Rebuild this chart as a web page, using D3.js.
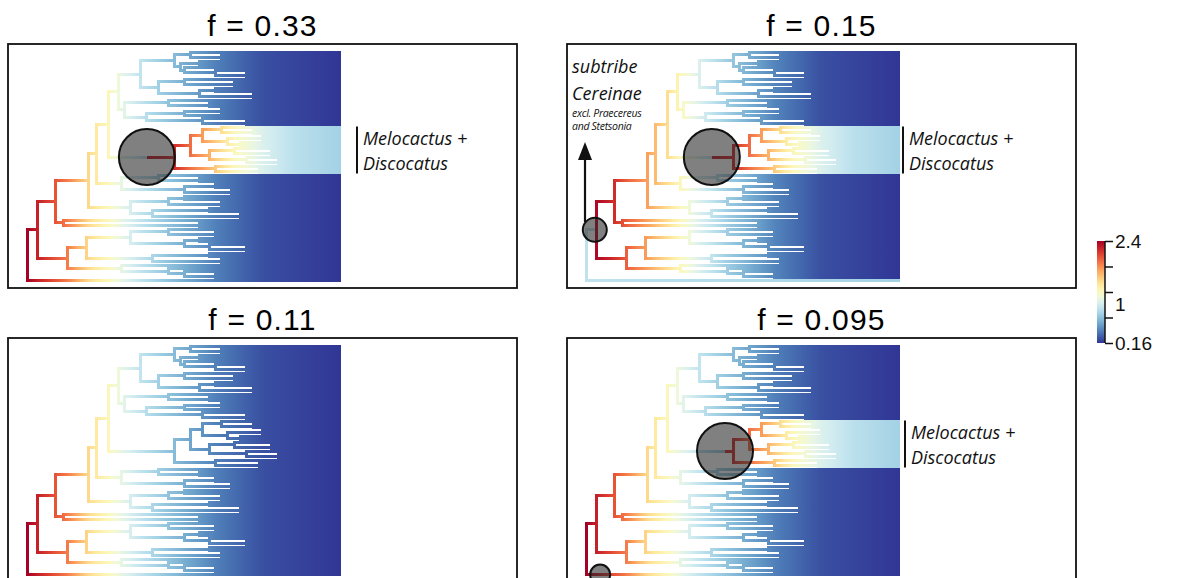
<!DOCTYPE html>
<html>
<head>
<meta charset="utf-8">
<script src="https://cdn.jsdelivr.net/npm/d3@7"></script>
<style>
  body { margin: 0; background: #fff; }
  svg { display: block; }
</style>
</head>
<body>
<svg id="chart" width="1185" height="578"></svg>
<script>
// tree topology, node depth after ")" (0 = root, 1 = present), "t" = tip, "#x" = clade name
const cladeA1a = "((t,(t,t)0.62)0.52,((t,t)0.55,(t,(t,(t,t)0.7)0.6)0.5)0.49)0.47";
const cladeA1b = "((t,(t,t)0.66)0.5,((t,t)0.6,(t,t)0.72)0.55)0.42";
const cladeA2 = "((t,(t,t)0.58)0.45,(((t,t)0.62,t)0.5,(t,(t,t)0.7)0.56)0.38)0.31";
const cladeM1a = "((t,(t,t)0.72)0.62,((t,t)0.75,(t,t)0.68)0.64)0.56";
const cladeM1b = "((t,(t,t)0.78)0.66,(t,(t,t)0.8)0.7)0.58";
const cladeM2 = "(t,(t,t)0.74)0.6";
const cladeB1 = "((t,(t,t)0.55)0.42,((t,t)0.6,(t,t)0.65)0.5)0.3";
const cladeB2 = "(((t,t)0.5,(t,t)0.62)0.45,((t,t)0.58,(t,t)0.68)0.4)0.33";
const cladeC = "(t,(t,t)0.55)0.115";
const cladeD1a = "((t,(t,t)0.6)0.45,((t,t)0.55,(t,(t,t)0.7)0.58)0.5)0.33";
const cladeD1b = "((t,t)0.58,(t,t)0.62)0.4";
const cladeD2 = "(t,(t,(t,(t,t)0.6)0.5)0.45)0.3";

const cladeA = `((${cladeA1a},${cladeA1b})0.36,${cladeA2})0.29`;
const cladeM = `((${cladeM1a},${cladeM1b})0.52,${cladeM2})0.47#M`;
const cladeD = `((${cladeD1a},${cladeD1b})0.19,${cladeD2})0.13`;
const treeString = `((((((${cladeA},${cladeM})0.26,${cladeB1})0.22,${cladeB2})0.195,${cladeC})0.09,${cladeD})0.035#N1,t#E)0`;

// net diversification rate along time for each rate regime
const bgTime = [0, 0.035, 0.09, 0.13, 0.2, 0.26, 0.3, 0.36, 0.45, 0.6, 0.75, 1.0];
const bgRate = [2.4, 2.25, 2.05, 1.9, 1.5, 1.3, 1.12, 0.93, 0.72, 0.43, 0.25, 0.16];
const melTime = [0.29, 0.47, 0.52, 0.58, 0.66, 0.75, 0.85, 1.0];
const melRate = [2.4, 2.2, 1.95, 1.7, 1.3, 1.05, 0.9, 0.8];
const cerTime = [0.02, 0.09, 0.13, 0.2, 0.26, 0.3, 0.36, 0.45, 0.6, 0.75, 1.0];
const cerRate = [2.4, 2.2, 2.0, 1.75, 1.5, 1.3, 1.05, 0.78, 0.45, 0.25, 0.16];
const lowTime = [0, 1.0];
const lowRate = [0.92, 0.8];

const panelTitles = ["f = 0.33", "f = 0.15", "f = 0.11", "f = 0.095"];
const panelRootRegime = ["bg", "low", "bg", "bg"];
const panelShifts = [
  [{node: "M", pos: 0.58, r: 28, regime: "mel"}],
  [{node: "N1", pos: 0.8, r: 12, regime: "cer"}, {node: "M", pos: 0.67, r: 28, regime: "mel"}],
  [],
  [{node: "E", pos: 0.045, r: 10, regime: "bg"}, {node: "M", pos: 0.87, r: 28, regime: "mel"}]
];
const panelCladeLabel = [true, true, false, true];

const legendDomain = [0.16, 2.4];
const legendTicks = [0.16, 0.72, 1.28, 1.84, 2.4];
const legendLabels = [2.4, 1, 0.16];

// layout
const panelPos = [[8, 44], [567, 44], [8, 338], [567, 338]];
const panelW = 509, panelH = 244;
const labelBarX = [349, 336, 0, 338];
const lineW = 3;

const svg = d3.select("#chart");
const defs = svg.append("defs");

const colorScale = d3.scaleSequential(t => d3.interpolateRdYlBu(1 - t)).domain(legendDomain);

const regimes = {
  bg: d3.scaleLinear().domain(bgTime).range(bgRate).clamp(true),
  mel: d3.scaleLinear().domain(melTime).range(melRate).clamp(true),
  cer: d3.scaleLinear().domain(cerTime).range(cerRate).clamp(true),
  low: d3.scaleLinear().domain(lowTime).range(lowRate).clamp(true)
};

function parseTree(s) {
  let i = 0;
  function node() {
    const n = {};
    if (s[i] === "(") {
      i++;
      n.children = [node()];
      while (s[i] === ",") { i++; n.children.push(node()); }
      i++;
      const m = /^[0-9.]+/.exec(s.slice(i));
      n.depth = +m[0];
      i += m[0].length;
    } else {
      i++;
      n.depth = 1;
    }
    if (s[i] === "#") {
      const m = /^#(\w+)/.exec(s.slice(i));
      n.name = m[1];
      i += m[0].length;
    }
    return n;
  }
  return node();
}

const root = d3.hierarchy(parseTree(treeString));
const leaves = root.leaves();
leaves.forEach((l, i) => l.yi = i);
root.eachAfter(n => {
  if (n.children) n.yi = (n.children[0].yi + n.children[n.children.length - 1].yi) / 2;
});

panelPos.forEach(([px, py], p) => {
  const g = svg.append("g");
  const x = d3.scaleLinear().domain([0, 1]).range([px + 19, px + 333]);
  const y = d3.scaleLinear().domain([0, leaves.length - 1])
    .range([py + 8.5, py + 8.5 + 3 * (leaves.length - 1)]);

  // one horizontal gradient per regime
  Object.keys(regimes).forEach(key => {
    const grad = defs.append("linearGradient")
      .attr("id", `g${p}_${key}`)
      .attr("gradientUnits", "userSpaceOnUse")
      .attr("x1", x(0)).attr("x2", x(1)).attr("y1", 0).attr("y2", 0);
    d3.range(0, 1.0001, 0.02).forEach(t => {
      grad.append("stop").attr("offset", t).attr("stop-color", colorScale(regimes[key](t)));
    });
  });

  // assign regimes
  const shifts = panelShifts[p];
  root.each(n => {
    const sh = shifts.find(s => s.node === n.data.name);
    n.shift = null;
    if (!n.parent) n.regime = panelRootRegime[p];
    else n.regime = n.parent.regime;
    if (sh && n.parent) {
      n.shift = sh;
      n.shiftD = n.parent.data.depth + sh.pos * (n.data.depth - n.parent.data.depth);
      n.regime = sh.regime;
    }
  });

  const tree = g.append("g").attr("shape-rendering", "crispEdges");

  // vertical connectors
  tree.selectAll(".vert").data(root.descendants().filter(n => n.children))
    .join("line")
    .attr("x1", n => x(n.data.depth)).attr("x2", n => x(n.data.depth))
    .attr("y1", n => y(n.children[0].yi) - 1.5).attr("y2", n => y(n.children[n.children.length - 1].yi) + 1.5)
    .attr("stroke", n => colorScale(regimes[n.regime](n.data.depth)))
    .attr("stroke-width", lineW);

  // horizontal branches, split at shift points
  const segs = [];
  root.descendants().forEach(n => {
    if (!n.parent) return;
    if (n.shift) {
      segs.push({x0: n.parent.data.depth, x1: n.shiftD, yi: n.yi, reg: n.parent.regime});
      segs.push({x0: n.shiftD, x1: n.data.depth, yi: n.yi, reg: n.regime});
    } else {
      segs.push({x0: n.parent.data.depth, x1: n.data.depth, yi: n.yi, reg: n.regime});
    }
  });
  tree.selectAll(".hor").data(segs)
    .join("line")
    .attr("x1", s => x(s.x0)).attr("x2", s => x(s.x1))
    .attr("y1", s => y(s.yi)).attr("y2", s => y(s.yi))
    .attr("stroke", s => `url(#g${p}_${s.reg})`)
    .attr("stroke-width", lineW);

  // shift circles
  g.selectAll(".shift").data(root.descendants().filter(n => n.shift))
    .join("circle")
    .attr("cx", n => x(n.shiftD)).attr("cy", n => y(n.yi))
    .attr("r", n => n.shift.r)
    .attr("fill", "#2b2b2b").attr("fill-opacity", 0.6)
    .attr("stroke", "#111").attr("stroke-width", 2);

  // panel frame and title
  g.append("rect")
    .attr("x", px).attr("y", py).attr("width", panelW).attr("height", panelH)
    .attr("fill", "none").attr("stroke", "#111").attr("stroke-width", 1.8);
  g.append("text")
    .attr("x", px + panelW / 2).attr("y", py - 8)
    .attr("text-anchor", "middle")
    .attr("font-family", "Liberation Sans, Arial, sans-serif")
    .attr("font-size", 30)
    .attr("letter-spacing", 1.2)
    .text(panelTitles[p]);

  if (panelCladeLabel[p]) {
    const mNode = root.descendants().find(n => n.data.name === "M");
    const mLeaves = mNode.leaves();
    const top = y(mLeaves[0].yi) - 1, bot = y(mLeaves[mLeaves.length - 1].yi) + 1;
    const bx = px + labelBarX[p];
    g.append("line").attr("x1", bx).attr("x2", bx).attr("y1", top).attr("y2", bot)
      .attr("stroke", "#111").attr("stroke-width", 2);
    const t = g.append("text")
      .attr("font-family", "Open Sans, sans-serif").attr("font-style", "italic")
      .attr("font-size", 18).attr("fill", "#111");
    t.append("tspan").attr("x", bx + 6).attr("y", top + 18).text("Melocactus +");
    t.append("tspan").attr("x", bx + 6).attr("y", top + 43).text("Discocatus");
  }

  if (p === 1) {
    const ax = px + 18;
    g.append("line").attr("x1", ax).attr("x2", ax).attr("y1", py + 178).attr("y2", py + 112)
      .attr("stroke", "#111").attr("stroke-width", 2.2);
    g.append("path")
      .attr("d", `M${ax},${py + 98}L${ax - 7},${py + 116}L${ax + 7},${py + 116}Z`)
      .attr("fill", "#111");
    const lab = g.append("text")
      .attr("font-family", "Open Sans, sans-serif").attr("font-style", "italic").attr("fill", "#111");
    lab.append("tspan").attr("x", px + 5).attr("y", py + 29).attr("font-size", 18).text("subtribe");
    lab.append("tspan").attr("x", px + 5).attr("y", py + 56).attr("font-size", 18).text("Cereinae");
    const small = g.append("text")
      .attr("font-family", "Open Sans, sans-serif").attr("font-style", "italic").attr("fill", "#111")
      .attr("font-size", 10.5).attr("letter-spacing", -0.3);
    small.append("tspan").attr("x", px + 5).attr("y", py + 73).text("excl. Praecereus");
    small.append("tspan").attr("x", px + 5).attr("y", py + 86).text("and Stetsonia");
  }
});

// colour legend
const legY = d3.scaleLinear().domain(legendDomain).range([343, 241]);
const lg = defs.append("linearGradient").attr("id", "legGrad")
  .attr("x1", 0).attr("x2", 0).attr("y1", 1).attr("y2", 0);
d3.range(0, 1.0001, 0.05).forEach(t => {
  lg.append("stop").attr("offset", t)
    .attr("stop-color", colorScale(legendDomain[0] + t * (legendDomain[1] - legendDomain[0])));
});
svg.append("rect").attr("x", 1097).attr("y", legY(legendDomain[1]))
  .attr("width", 8).attr("height", legY(legendDomain[0]) - legY(legendDomain[1]))
  .attr("fill", "url(#legGrad)");
const legAxis = svg.append("g").attr("transform", "translate(1105,0)")
  .call(d3.axisRight(legY).tickValues(legendTicks).tickSize(8).tickFormat(""));
legAxis.select(".domain").attr("stroke", "#111").attr("stroke-width", 1.5).attr("d", `M0,${legY(legendDomain[0])}V${legY(legendDomain[1])}`);
legAxis.selectAll(".tick line").attr("stroke", "#111").attr("stroke-width", 1.5);
svg.selectAll(".legLabel").data(legendLabels)
  .join("text")
  .attr("x", 1115).attr("y", d => legY(d))
  .attr("dy", "0.35em")
  .attr("font-family", "Liberation Sans, Arial, sans-serif")
  .attr("font-size", 19)
  .attr("fill", "#111")
  .text(d => d);
</script>
</body>
</html>
